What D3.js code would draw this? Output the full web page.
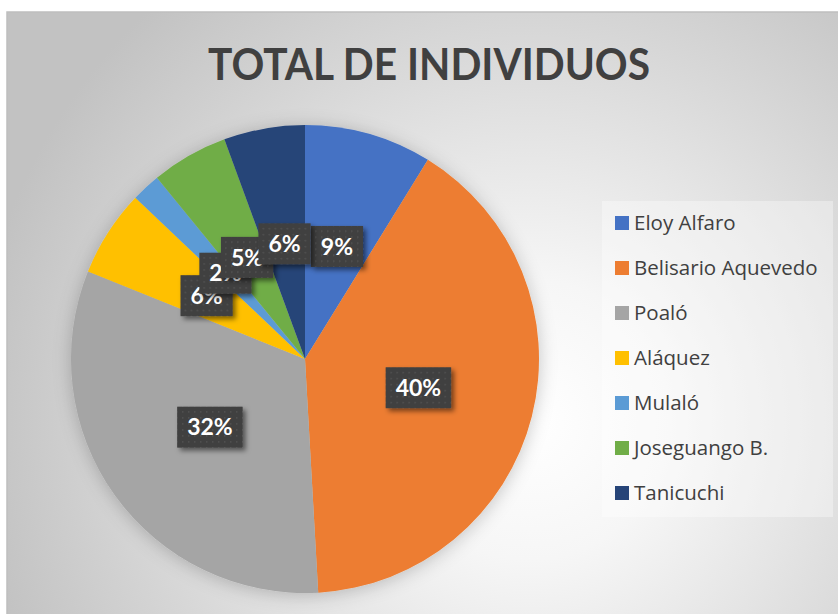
<!DOCTYPE html>
<html>
<head>
<meta charset="utf-8">
<script src="https://cdn.jsdelivr.net/npm/d3@7"></script>
<style>
  body { margin: 0; background: #fff; }
  svg { display: block; }
</style>
</head>
<body>
<div id="chart"></div>
<script>
// data (share of individuals, %)
var categories = ["Eloy Alfaro", "Belisario Aquevedo", "Poaló", "Aláquez", "Mulaló", "Joseguango B.", "Tanicuchi"];
var values = [8.8, 40.3, 32.0, 6.0, 2.0, 5.3, 5.6];
var colors = ["#4472c4", "#ed7d31", "#a5a5a5", "#ffc000", "#5b9bd5", "#70ad47", "#264478"];
var title = "TOTAL DE INDIVIDUOS";

var width = 838, height = 614;
var cx = 305, cy = 359, radius = 234;

var svg = d3.select("#chart").append("svg")
  .attr("width", width)
  .attr("height", height);

var defs = svg.append("defs");

// chart area background
var bg = defs.append("radialGradient")
  .attr("id", "bg")
  .attr("gradientUnits", "userSpaceOnUse")
  .attr("cx", 530).attr("cy", 420).attr("r", 560);
bg.append("stop").attr("offset", "0%").attr("stop-color", "#ffffff");
bg.append("stop").attr("offset", "25%").attr("stop-color", "#f6f6f6");
bg.append("stop").attr("offset", "100%").attr("stop-color", "#c2c2c2");

// glow around the pie
var glow = defs.append("filter").attr("id", "glow")
  .attr("x", "-20%").attr("y", "-20%").attr("width", "140%").attr("height", "140%");
glow.append("feDropShadow")
  .attr("dx", 0).attr("dy", 2).attr("stdDeviation", 9)
  .attr("flood-color", "#000").attr("flood-opacity", 0.22);

// label shadow
var shadow = defs.append("filter").attr("id", "shadow")
  .attr("x", "-30%").attr("y", "-30%").attr("width", "160%").attr("height", "160%");
shadow.append("feDropShadow")
  .attr("dx", 3).attr("dy", 3).attr("stdDeviation", 2.5)
  .attr("flood-color", "#000").attr("flood-opacity", 0.5);

// dotted fill of the labels
var pat = defs.append("pattern").attr("id", "dots")
  .attr("patternUnits", "userSpaceOnUse")
  .attr("width", 6).attr("height", 6);
pat.append("rect").attr("width", 6).attr("height", 6).attr("fill", "#3f3f3f");
pat.append("rect").attr("x", 2).attr("y", 2).attr("width", 1.5).attr("height", 1.5).attr("fill", "#555");

svg.append("rect")
  .attr("x", 7).attr("y", 12)
  .attr("width", width + 10).attr("height", height)
  .attr("fill", "url(#bg)")
  .attr("stroke", "#bfbfbf")
  .attr("stroke-width", 1.5);

// title
svg.append("text")
  .attr("x", 429).attr("y", 80)
  .attr("text-anchor", "middle")
  .attr("font-family", "Lato, 'Open Sans', sans-serif")
  .attr("font-weight", "bold")
  .attr("font-size", 44)
  .attr("fill", "#404040")
  .attr("textLength", 442)
  .attr("lengthAdjust", "spacingAndGlyphs")
  .text(title);

// pie
var pie = d3.pie().sort(null).value(function(d) { return d; });
var arc = d3.arc().innerRadius(0).outerRadius(radius);
var arcs = pie(values);
var total = d3.sum(values);

var g = svg.append("g")
  .attr("transform", "translate(" + cx + "," + cy + ")");

g.append("g")
  .attr("filter", "url(#glow)")
  .selectAll("path")
  .data(arcs)
  .enter()
  .append("path")
    .attr("d", arc)
    .attr("fill", function(d, i) { return colors[i]; });

// data labels at the slice centroids
var labels = g.selectAll("g.lbl")
  .data(arcs)
  .enter()
  .append("g")
    .attr("class", "lbl")
    .attr("transform", function(d) {
      var c = arc.centroid(d);
      return "translate(" + c[0] + "," + c[1] + ")";
    });

labels.each(function(d) {
  var lg = d3.select(this);
  var rect = lg.append("rect").attr("fill", "url(#dots)").attr("filter", "url(#shadow)");
  var t = lg.append("text")
    .attr("text-anchor", "middle")
    .attr("dy", "0.36em")
    .attr("font-family", "Lato, 'Open Sans', sans-serif")
    .attr("font-weight", "bold")
    .attr("font-size", 23)
    .attr("fill", "#ffffff")
    .text(Math.round(d.value / total * 100) + "%");
  var w = t.node().getComputedTextLength() + 20;
  var h = 41;
  rect.attr("x", -w / 2).attr("y", -h / 2).attr("width", w).attr("height", h);
});

// legend
var legend = svg.append("g");
legend.append("rect")
  .attr("x", 602).attr("y", 201)
  .attr("width", 231).attr("height", 316)
  .attr("fill", "#ffffff")
  .attr("fill-opacity", 0.35);

var rows = legend.selectAll("g.item")
  .data(categories)
  .enter()
  .append("g")
    .attr("class", "item")
    .attr("transform", function(d, i) { return "translate(615," + (223 + i * 45) + ")"; });

rows.append("rect")
  .attr("x", 0).attr("y", -7)
  .attr("width", 14).attr("height", 14)
  .attr("fill", function(d, i) { return colors[i]; });

rows.append("text")
  .attr("x", 19).attr("dy", "0.35em")
  .attr("font-family", "'Open Sans', Lato, sans-serif")
  .attr("font-size", 20.5)
  .attr("fill", "#404040")
  .text(function(d) { return d; });
</script>
</body>
</html>
